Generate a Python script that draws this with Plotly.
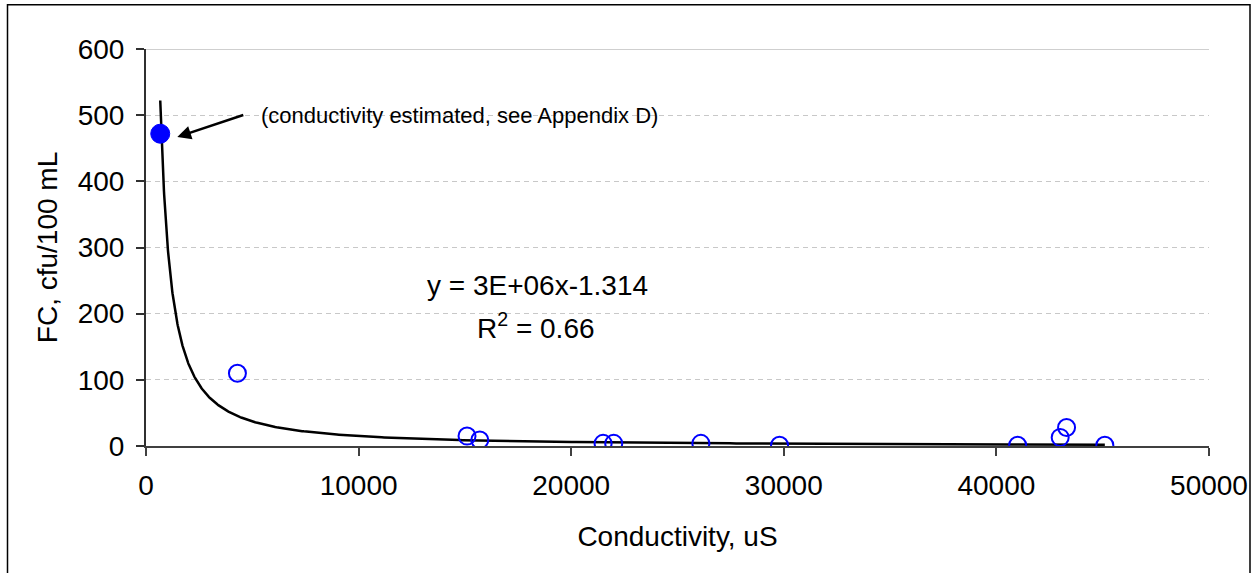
import numpy as np
import plotly.graph_objects as go

# --- data ---
est_x = [670]          # conductivity estimated (filled marker)
est_y = [472]
cond_x = [4300, 15100, 15700, 21500, 22000, 26100, 29800, 41000, 43000, 43300, 45100]
fc_y = [110, 15, 9, 4, 4, 4, 1, 1, 13, 28, 1]

# power trendline shown on chart: y = a * x^b
trend_a = 2.7e6
trend_b = -1.314

x_ticks = [0, 10000, 20000, 30000, 40000, 50000]
y_ticks = [0, 100, 200, 300, 400, 500, 600]

FONT = "Liberation Sans, Arial, sans-serif"

xmin = min(est_x + cond_x)
xmax = max(est_x + cond_x)
tx = np.geomspace(xmin, xmax, 400)
ty = trend_a * tx ** trend_b

fig = go.Figure()
fig.add_trace(go.Scatter(x=tx, y=ty, mode="lines",
                         line=dict(color="black", width=2.5), showlegend=False))
fig.add_trace(go.Scatter(x=cond_x, y=fc_y, mode="markers",
                         marker=dict(size=17, color="rgba(0,0,0,0)",
                                     line=dict(color="#0000ff", width=2)),
                         showlegend=False))
fig.add_trace(go.Scatter(x=est_x, y=est_y, mode="markers",
                         marker=dict(size=19, color="#0000ff",
                                     line=dict(color="#0000ff", width=1)),
                         showlegend=False))

axis_font = dict(family=FONT, size=28, color="black")

fig.update_layout(
    width=1257, height=573,
    margin=dict(l=146, r=48, t=49, b=127),
    paper_bgcolor="white", plot_bgcolor="white",
    font=dict(family=FONT, color="black"),
    xaxis=dict(range=[0, 50000], tickvals=x_ticks, ticktext=[str(v) for v in x_ticks],
               ticks="outside", ticklen=8, tickwidth=1.5, tickcolor="#404040",
               showline=True, linecolor="#404040", linewidth=2,
               showgrid=False, zeroline=False, tickfont=axis_font, ticklabelstandoff=5,
               title=dict(text="Conductivity, uS", font=axis_font, standoff=27),
               automargin=False),
    yaxis=dict(range=[0, 600], tickvals=y_ticks, ticktext=[str(v) for v in y_ticks],
               ticks="outside", ticklen=8, tickwidth=1.5, tickcolor="#303030",
               showline=True, linecolor="#303030", linewidth=2,
               showgrid=True, gridcolor="#c8c8c8", gridwidth=1, griddash="5px,4px",
               zeroline=False, tickfont=axis_font, ticklabelstandoff=6,
               title=dict(text="FC, cfu/100 mL", font=axis_font, standoff=12),
               automargin=False),
    shapes=[
        dict(type="line", xref="paper", yref="y", x0=0, x1=1, y0=600, y1=600,
             line=dict(color="#a0a0a0", width=1)),
        dict(type="rect", xref="paper", yref="paper",
             x0=(7.5 - 146) / 1063, x1=(1250 - 146) / 1063,
             y0=(446 - 580) / 397, y1=(446 - 4.7) / 397,
             line=dict(color="black", width=1.5), fillcolor="rgba(0,0,0,0)", layer="below"),
    ],
    annotations=[
        dict(x=1472, y=467, xref="x", yref="y", text=" ", showarrow=True,
             ax=69, ay=-23, arrowhead=2, arrowsize=1.1, arrowwidth=2.5,
             arrowcolor="black", standoff=0, startstandoff=0),
        dict(x=5330, y=499, xref="x", yref="y", text="(conductivity estimated, see Appendix D)",
             showarrow=False, xanchor="left", yanchor="middle",
             font=dict(family=FONT, size=22, color="black")),
        dict(x=(537 - 146) * 50000 / 1063, y=(446 - 285) * 600 / 397, xref="x", yref="y",
             text="y = 3E+06x-1.314", showarrow=False, xanchor="center", yanchor="middle",
             font=dict(family=FONT, size=28, color="black")),
        dict(x=(536 - 146) * 50000 / 1063, y=(446 - 326) * 600 / 397, xref="x", yref="y",
             text="R<sup>2</sup> = 0.66", showarrow=False, xanchor="center", yanchor="middle",
             font=dict(family=FONT, size=28, color="black")),
    ],
)

fig.write_html("out.html")
